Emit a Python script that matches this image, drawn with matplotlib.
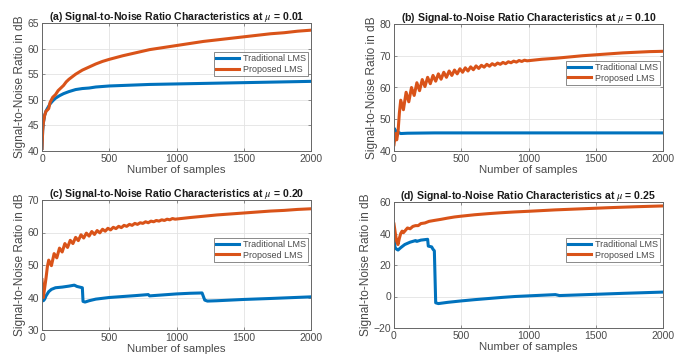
import matplotlib
matplotlib.use("Agg")
import matplotlib.pyplot as plt

plt.rcParams['font.family'] = ['Liberation Sans', 'DejaVu Sans']
plt.rcParams['mathtext.fontset'] = 'stix'

series_names = ["Traditional LMS", "Proposed LMS"]
titles = [r"(a) Signal-to-Noise Ratio Characteristics at $\mu$ = 0.01",
          r"(b) Signal-to-Noise Ratio Characteristics at $\mu$ = 0.10",
          r"(c) Signal-to-Noise Ratio Characteristics at $\mu$ = 0.20",
          r"(d) Signal-to-Noise Ratio Characteristics at $\mu$ = 0.25"]
xlabel = "Number of samples"
ylabel = "Signal-to-Noise Ratio in dB"
x_ticks = [0, 500, 1000, 1500, 2000]

# ---- panel (a) ----
a_trad_x = [0, 5, 10, 20, 30, 40, 60, 80, 100, 130, 160, 200, 250, 300, 350, 400, 450, 500,
            600, 800, 1000, 1200, 1400, 1600, 1800, 2000]
a_trad_y = [40.5, 44, 45.5, 47, 47.8, 48.3, 49.2, 49.8, 50.3, 50.8, 51.2, 51.6, 52.0, 52.2, 52.3,
            52.5, 52.6, 52.7, 52.8, 53.0, 53.1, 53.2, 53.3, 53.4, 53.5, 53.6]
a_prop_x = [0, 5, 10, 20, 30, 40, 50, 60, 70, 80, 100, 120, 140, 160, 180, 200, 225, 250, 275,
            300, 350, 400, 450, 500, 600, 700, 800, 900, 1000, 1100, 1200, 1300, 1400, 1500,
            1600, 1700, 1800, 1900, 2000]
a_prop_y = [40.5, 44, 45.5, 47, 47.8, 48, 48.3, 49.5, 50, 50.5, 51, 51.8, 52.3, 52.8, 53.5, 54,
            54.5, 55, 55.4, 55.8, 56.4, 57.0, 57.5, 57.9, 58.6, 59.2, 59.8, 60.2, 60.6, 61.0,
            61.4, 61.7, 62.0, 62.3, 62.6, 62.9, 63.1, 63.4, 63.6]

# ---- panel (b) ----
b_trad_x = [0, 5, 10, 15, 20, 30, 50, 100, 300, 600, 1000, 1500, 2000]
b_trad_y = [45, 47, 44.5, 46.3, 45.2, 45.9, 45.5, 45.6, 45.7, 45.7, 45.7, 45.7, 45.7]
b_prop_x = [0, 10, 20, 30, 40, 50, 70, 90, 110, 130, 150, 170, 190, 210, 230, 250, 270, 290,
            310, 330, 350, 370, 390, 410, 430, 450, 470, 490, 510, 530, 550, 570, 590, 610,
            630, 650, 670, 690, 710, 730, 750, 770, 790, 810, 830, 850, 870, 890, 910, 930,
            950, 970, 990, 1100, 1200, 1300, 1400, 1500, 1600, 1700, 1800, 1900, 2000]
b_prop_y = [42, 45.5, 43.5, 46, 52, 56, 53, 58.5, 55.5, 60, 57.5, 61.5, 59, 62.5, 60.3, 63.2,
            61.2, 63.8, 62, 64.3, 62.6, 64.8, 63.2, 65.2, 63.8, 65.5, 64.3, 65.9, 64.8, 66.2,
            65.2, 66.5, 65.6, 66.8, 66.0, 67.0, 66.4, 67.3, 66.7, 67.5, 67.0, 67.7, 67.3,
            67.9, 67.5, 68.1, 67.8, 68.3, 68.0, 68.5, 68.2, 68.6, 68.4, 68.9, 69.2, 69.6, 70,
            70.3, 70.6, 70.9, 71.1, 71.3, 71.4]

# ---- panel (c) ----
c_trad_x = [0, 10, 20, 30, 50, 70, 100, 150, 200, 240, 260, 280, 300, 305, 320, 350, 400, 500,
            600, 700, 790, 800, 900, 1000, 1100, 1190, 1210, 1230, 1300, 1500, 1700, 2000]
c_trad_y = [40, 39, 39.5, 40.5, 41.8, 42.5, 43, 43.2, 43.5, 43.8, 43.4, 43.2, 43.0, 38.8, 38.6,
            39, 39.5, 40, 40.3, 40.6, 40.9, 40.5, 40.8, 41.1, 41.3, 41.4, 39.2, 38.9, 39, 39.4,
            39.7, 40.2]
c_prop_x = b_prop_x
c_prop_y = [45.5, 40, 43, 46, 49.5, 51.5, 49.8, 53.5, 52.2, 55.2, 54, 56.6, 55.4, 57.6, 56.6,
            58.5, 57.5, 59.3, 58.3, 59.8, 58.9, 60.3, 59.4, 60.6, 59.9, 61, 60.4, 61.3, 60.8,
            61.6, 61.2, 61.9, 61.5, 62.2, 61.9, 62.5, 62.2, 62.8, 62.5, 63.0, 62.8, 63.3, 63.0,
            63.5, 63.3, 63.7, 63.5, 63.9, 63.7, 64.1, 63.9, 64.3, 64.1, 64.6, 65, 65.4, 65.7,
            66, 66.3, 66.6, 66.8, 67.1, 67.3]

# ---- panel (d) ----
d_trad_x = [0, 8, 20, 30, 50, 80, 120, 160, 170, 200, 250, 255, 280, 290, 300, 310, 330, 400,
            500, 600, 700, 800, 900, 1000, 1100, 1200, 1230, 1300, 1500, 1700, 1850, 2000]
d_trad_y = [40, 31, 30, 29.5, 31, 33, 34.5, 35.5, 35, 35.8, 36.3, 32, 31.5, 30, 29, -4, -4.5,
            -3.7, -2.8, -2, -1.3, -0.6, 0, 0.4, 0.8, 1.2, 0.6, 0.8, 1.4, 2, 2.4, 2.8]
d_prop_x = [0, 10, 20, 30, 40, 50, 60, 70, 80, 100, 120, 140, 160, 180, 200, 230, 260, 300,
            350, 400, 450, 500, 600, 700, 800, 900, 1000, 1200, 1400, 1600, 1800, 2000]
d_prop_y = [46, 40, 35, 33, 37, 40, 41.5, 40.5, 41.5, 43.5, 43, 44.5, 45, 45, 46.3, 46.7,
            47.7, 48.3, 49, 49.8, 50.5, 51, 51.9, 52.6, 53.2, 53.7, 54.1, 55, 55.7, 56.4, 57,
            57.5]

panels = [
    (a_trad_x, a_trad_y, a_prop_x, a_prop_y, (40, 65), [40, 45, 50, 55, 60, 65]),
    (b_trad_x, b_trad_y, b_prop_x, b_prop_y, (40, 80), [40, 50, 60, 70, 80]),
    (c_trad_x, c_trad_y, c_prop_x, c_prop_y, (30, 70), [30, 40, 50, 60, 70]),
    (d_trad_x, d_trad_y, d_prop_x, d_prop_y, (-20, 60), [-20, 0, 20, 40, 60]),
]

W, H = 686, 362
# pixel boxes: left, top, right, bottom
boxes = [(42, 23, 311, 151), (394, 24, 663, 151), (42, 200, 311, 330), (394, 202, 663, 328)]
legend_top = [0.773, 0.709, 0.708, 0.714]

blue = '#0072BD'
orange = '#D95319'
txt = '#4a4a4a'

fig = plt.figure(figsize=(W / 100, H / 100), dpi=100)
for i, (tx, ty, px, py, ylim, yt) in enumerate(panels):
    l, t, r, b = boxes[i]
    ax = fig.add_axes([l / W, 1 - b / H, (r - l) / W, (b - t) / H])
    ax.plot(tx, ty, color=blue, lw=2.2, label=series_names[0])
    ax.plot(px, py, color=orange, lw=2.2, label=series_names[1])
    ax.set_xlim(0, 2000)
    ax.set_ylim(*ylim)
    ax.set_xticks(x_ticks)
    ax.set_yticks(yt)
    ax.grid(True, color='#e3e3e3', lw=0.6)
    ax.set_axisbelow(True)
    for s in ax.spines.values():
        s.set_color('#666666')
        s.set_linewidth(0.7)
    ax.tick_params(direction='in', length=2.5, width=0.5, colors='#666666',
                   labelcolor=txt, labelsize=7.5, pad=2, top=True, right=True)
    ax.set_title(titles[i], fontsize=7.6, fontweight='bold', color='#1a1a1a', pad=2)
    ax.set_xlabel(xlabel, fontsize=8.2, color=txt, labelpad=1)
    ax.set_ylabel(ylabel, fontsize=8.6, color=txt, labelpad=1)
    leg = ax.legend(loc='upper right', bbox_to_anchor=(0.99, legend_top[i]),
                    fontsize=6.5, frameon=True, fancybox=False, handlelength=2.6,
                    borderpad=0.25, labelspacing=0.15, handletextpad=0.4,
                    borderaxespad=0)
    leg.get_frame().set_edgecolor('#555555')
    leg.get_frame().set_linewidth(0.6)
    for tl in leg.get_texts():
        tl.set_color(txt)

fig.savefig('out.png', dpi=100)
